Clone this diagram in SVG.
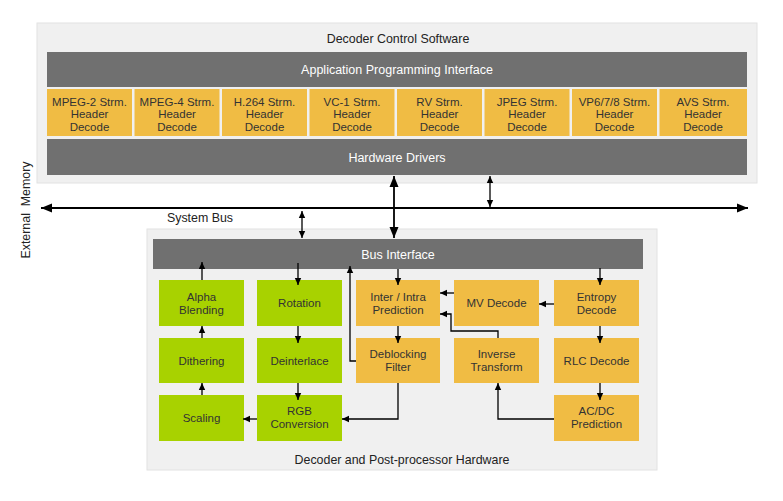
<svg xmlns="http://www.w3.org/2000/svg" width="783" height="501" viewBox="0 0 783 501">
<defs>
<marker id="ah" markerUnits="userSpaceOnUse" markerWidth="8" markerHeight="8" refX="7" refY="4" orient="auto-start-reverse"><path d="M0,0.8 L7,4 L0,7.2 Z" fill="#000"/></marker>
<marker id="big" markerUnits="userSpaceOnUse" markerWidth="12" markerHeight="12" refX="11" refY="6" orient="auto-start-reverse"><path d="M0,1.5 L11,6 L0,10.5 Z" fill="#000"/></marker>
<style>
.panel{fill:#f0f0f0;stroke:#e2e2e2;stroke-width:1}
.bar{fill:#707070}
.org{fill:#f0bc44}
.grn{fill:#a8d200}
text{font-family:"Liberation Sans",Arial,sans-serif}
.bt{fill:#fff;font-size:12.5px;text-anchor:middle}
.t{fill:#333;font-size:11.5px;text-anchor:middle}
.lbl{fill:#222;font-size:12.4px;text-anchor:middle}
.c{fill:none;stroke:#000;stroke-width:1.3}
.cb{fill:none;stroke:#000;stroke-width:1.8}
</style>
</defs>
<rect width="783" height="501" fill="#fff"/>

<g id="software">
<rect class="panel" x="37" y="23" width="720" height="160"/>
<text class="lbl" x="398" y="43">Decoder Control Software</text>
</g>
<g id="api"><rect class="bar" x="47" y="52" width="700" height="35"/><text class="bt" x="397" y="74">Application Programming Interface</text></g>
<g id="hdr-mpeg2"><rect class="org" x="47" y="89" width="85" height="47"/><text class="t" x="89.5" y="106">MPEG-2 Strm.</text><text class="t" x="89.5" y="118">Header</text><text class="t" x="89.5" y="131">Decode</text></g>
<g id="hdr-mpeg4"><rect class="org" x="134.5" y="89" width="85" height="47"/><text class="t" x="177" y="106">MPEG-4 Strm.</text><text class="t" x="177" y="118">Header</text><text class="t" x="177" y="131">Decode</text></g>
<g id="hdr-h264"><rect class="org" x="222" y="89" width="85" height="47"/><text class="t" x="264.5" y="106">H.264 Strm.</text><text class="t" x="264.5" y="118">Header</text><text class="t" x="264.5" y="131">Decode</text></g>
<g id="hdr-vc1"><rect class="org" x="309.5" y="89" width="85" height="47"/><text class="t" x="352" y="106">VC-1 Strm.</text><text class="t" x="352" y="118">Header</text><text class="t" x="352" y="131">Decode</text></g>
<g id="hdr-rv"><rect class="org" x="397" y="89" width="85" height="47"/><text class="t" x="439.5" y="106">RV Strm.</text><text class="t" x="439.5" y="118">Header</text><text class="t" x="439.5" y="131">Decode</text></g>
<g id="hdr-jpeg"><rect class="org" x="484.5" y="89" width="85" height="47"/><text class="t" x="527" y="106">JPEG Strm.</text><text class="t" x="527" y="118">Header</text><text class="t" x="527" y="131">Decode</text></g>
<g id="hdr-vp"><rect class="org" x="572" y="89" width="85" height="47"/><text class="t" x="614.5" y="106">VP6/7/8 Strm.</text><text class="t" x="614.5" y="118">Header</text><text class="t" x="614.5" y="131">Decode</text></g>
<g id="hdr-avs"><rect class="org" x="659.5" y="89" width="87.5" height="47"/><text class="t" x="703" y="106">AVS Strm.</text><text class="t" x="703" y="118">Header</text><text class="t" x="703" y="131">Decode</text></g>
<g id="hwdrivers"><rect class="bar" x="47" y="139" width="700" height="36"/><text class="bt" x="397" y="162">Hardware Drivers</text></g>

<g id="extmem"><text class="lbl" x="0" y="0" transform="translate(30,210) rotate(-90)" xml:space="preserve">External  Memory</text></g>
<g id="sysbus-label"><text class="lbl" x="200" y="222">System Bus</text></g>

<g id="hardware">
<rect class="panel" x="147" y="229" width="510" height="241"/>
<text class="lbl" x="402" y="464">Decoder and Post-processor Hardware</text>
</g>
<g id="businterface"><rect class="bar" x="153" y="239" width="490" height="30"/><text class="bt" x="398" y="259">Bus Interface</text></g>
<g id="alpha"><rect class="grn" x="159" y="280" width="85" height="46"/><text class="t" x="201.5" y="301">Alpha</text><text class="t" x="201.5" y="314">Blending</text></g>
<g id="dither"><rect class="grn" x="159" y="338" width="85" height="45"/><text class="t" x="201.5" y="365">Dithering</text></g>
<g id="scaling"><rect class="grn" x="159" y="395" width="85" height="46"/><text class="t" x="201.5" y="422">Scaling</text></g>
<g id="rotation"><rect class="grn" x="257" y="280" width="85" height="46"/><text class="t" x="299.5" y="307">Rotation</text></g>
<g id="deinterlace"><rect class="grn" x="257" y="338" width="85" height="45"/><text class="t" x="299.5" y="365">Deinterlace</text></g>
<g id="rgb"><rect class="grn" x="257" y="395" width="85" height="46"/><text class="t" x="299.5" y="415">RGB</text><text class="t" x="299.5" y="428">Conversion</text></g>
<g id="interintra"><rect class="org" x="356" y="280" width="84" height="46"/><text class="t" x="398" y="301">Inter / Intra</text><text class="t" x="398" y="314">Prediction</text></g>
<g id="deblock"><rect class="org" x="356" y="338" width="84" height="45"/><text class="t" x="398" y="358">Deblocking</text><text class="t" x="398" y="371">Filter</text></g>
<g id="mvdecode"><rect class="org" x="454" y="280" width="85" height="46"/><text class="t" x="496.5" y="307">MV Decode</text></g>
<g id="invtrans"><rect class="org" x="454" y="338" width="85" height="45"/><text class="t" x="496.5" y="358">Inverse</text><text class="t" x="496.5" y="371">Transform</text></g>
<g id="entropy"><rect class="org" x="554" y="280" width="85" height="46"/><text class="t" x="596.5" y="301">Entropy</text><text class="t" x="596.5" y="314">Decode</text></g>
<g id="rlc"><rect class="org" x="554" y="338" width="85" height="45"/><text class="t" x="596.5" y="365">RLC Decode</text></g>
<g id="acdc"><rect class="org" x="554" y="395" width="85" height="46"/><text class="t" x="596.5" y="415">AC/DC</text><text class="t" x="596.5" y="428">Prediction</text></g>

<g id="connectors">
<path class="cb" d="M41,208 H748" marker-start="url(#big)" marker-end="url(#big)"/>
<path class="cb" d="M394,176 V238" marker-start="url(#big)" marker-end="url(#big)"/>
<path class="c" d="M302,211 V238" marker-start="url(#ah)" marker-end="url(#ah)"/>
<path class="c" d="M490,176 V207" marker-start="url(#ah)" marker-end="url(#ah)"/>
<path class="c" d="M202,280 V262" marker-end="url(#ah)"/>
<path class="c" d="M298,263 V285" marker-end="url(#ah)"/>
<path class="c" d="M356,361 H350 V266" marker-end="url(#ah)"/>
<path class="c" d="M398,269 V285" marker-end="url(#ah)"/>
<path class="c" d="M600,268 V285" marker-end="url(#ah)"/>
<path class="c" d="M298,326 V343" marker-end="url(#ah)"/>
<path class="c" d="M298,383 V400" marker-end="url(#ah)"/>
<path class="c" d="M202,395 V383" marker-end="url(#ah)"/>
<path class="c" d="M202,338 V326" marker-end="url(#ah)"/>
<path class="c" d="M257,419 H243" marker-end="url(#ah)"/>
<path class="c" d="M398,383 V419 H342" marker-end="url(#ah)"/>
<path class="c" d="M398,326 V343" marker-end="url(#ah)"/>
<path class="c" d="M454,293 H440" marker-end="url(#ah)"/>
<path class="c" d="M498,338 V331 H451 V314 H440" marker-end="url(#ah)"/>
<path class="c" d="M554,304 H539" marker-end="url(#ah)"/>
<path class="c" d="M600,326 V343" marker-end="url(#ah)"/>
<path class="c" d="M600,383 V400" marker-end="url(#ah)"/>
<path class="c" d="M554,419 H498 V383" marker-end="url(#ah)"/>
</g>
</svg>
